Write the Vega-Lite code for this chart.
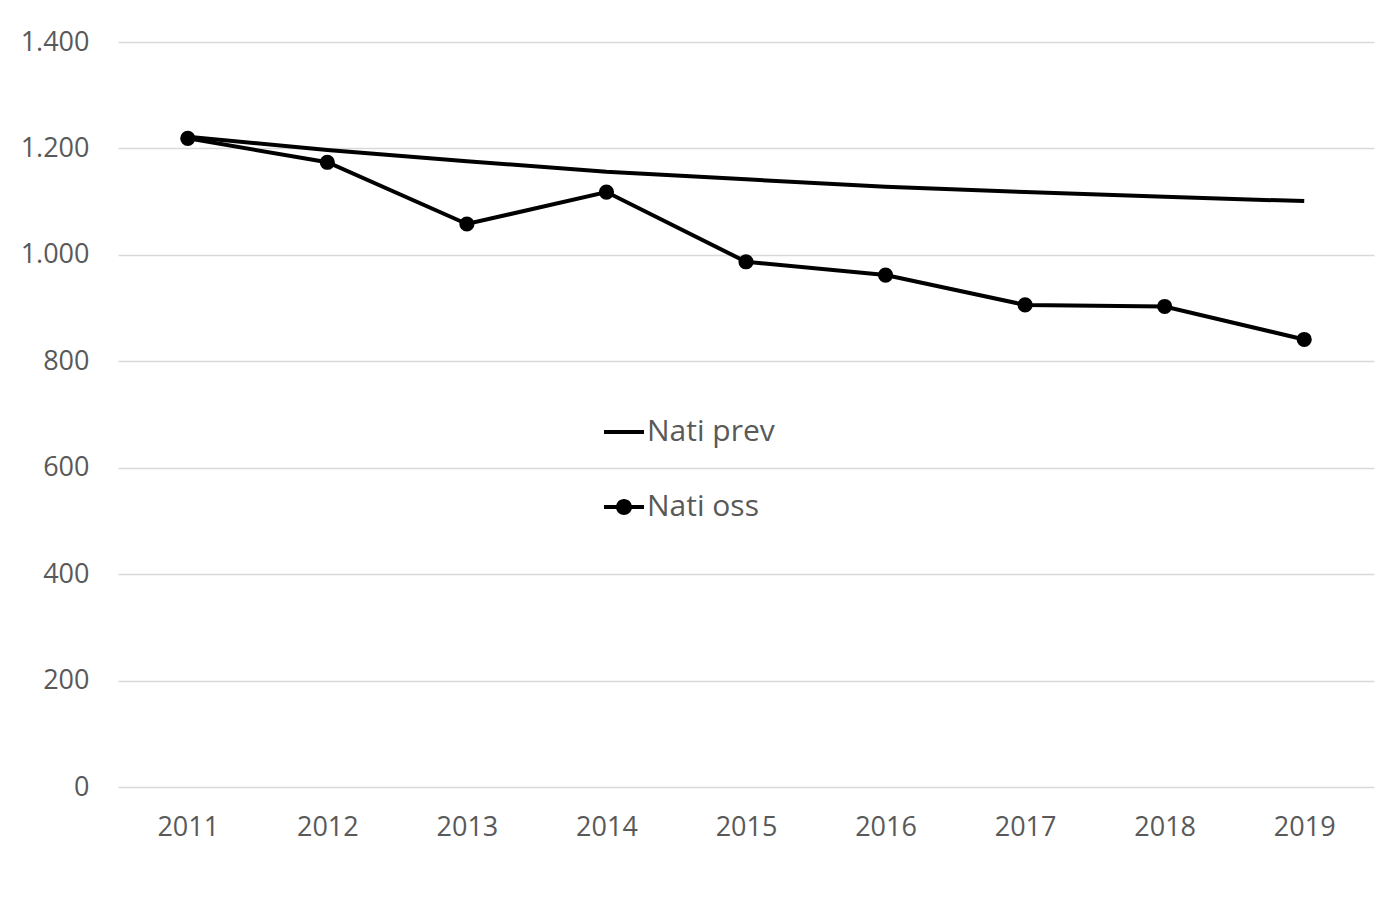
{
  "$schema": "https://vega.github.io/schema/vega-lite/v6.json",
  "width": 1256,
  "height": 745,
  "autosize": {"type": "none"},
  "padding": {"left": 118, "top": 42, "right": 6, "bottom": 123},
  "background": "white",
  "config": {
    "view": {"stroke": null},
    "font": "Open Sans",
    "axis": {"labelFont": "Open Sans", "labelColor": "#595959", "labelFontSize": 27, "domain": false, "ticks": false, "title": null},
    "legend": {"labelFont": "Open Sans", "labelColor": "#595959", "labelFontSize": 30}
  },
  "data": {
    "values": [
      {"year": "2011", "series": "Nati prev", "value": 1222},
      {"year": "2012", "series": "Nati prev", "value": 1197},
      {"year": "2013", "series": "Nati prev", "value": 1176},
      {"year": "2014", "series": "Nati prev", "value": 1156},
      {"year": "2015", "series": "Nati prev", "value": 1142},
      {"year": "2016", "series": "Nati prev", "value": 1128},
      {"year": "2017", "series": "Nati prev", "value": 1118},
      {"year": "2018", "series": "Nati prev", "value": 1109},
      {"year": "2019", "series": "Nati prev", "value": 1101},
      {"year": "2011", "series": "Nati oss", "value": 1219},
      {"year": "2012", "series": "Nati oss", "value": 1174},
      {"year": "2013", "series": "Nati oss", "value": 1058},
      {"year": "2014", "series": "Nati oss", "value": 1118},
      {"year": "2015", "series": "Nati oss", "value": 987},
      {"year": "2016", "series": "Nati oss", "value": 962},
      {"year": "2017", "series": "Nati oss", "value": 906},
      {"year": "2018", "series": "Nati oss", "value": 903},
      {"year": "2019", "series": "Nati oss", "value": 841}
    ]
  },
  "encoding": {
    "x": {"field": "year", "type": "ordinal", "scale": {"type": "point", "padding": 0.5},
      "axis": {"labelAngle": 0, "grid": false, "labelPadding": 27}},
    "y": {"field": "value", "type": "quantitative", "scale": {"domain": [0, 1400], "nice": false},
      "axis": {"values": [0, 200, 400, 600, 800, 1000, 1200, 1400], "grid": true, "gridColor": "#d9d9d9", "gridWidth": 1.5,
        "labelPadding": 29, "labelExpr": "replace(format(datum.value, ','), ',', '.')"}}
  },
  "layer": [
    {
      "mark": {"type": "line", "color": "black", "strokeWidth": 4},
      "encoding": {"detail": {"field": "series"}}
    },
    {
      "transform": [{"filter": "datum.series == 'Nati oss'"}],
      "mark": {"type": "point", "filled": true, "color": "black", "size": 230, "opacity": 1}
    },
    {
      "transform": [{"filter": "datum.value < 0"}],
      "mark": {"type": "point", "filled": true, "color": "black", "opacity": 1},
      "encoding": {
        "shape": {"field": "series", "type": "nominal",
          "scale": {"domain": ["Nati prev", "Nati oss"],
            "range": ["M-1,-0.1H1V0.1H-1Z", "M-1,-0.1H1V0.1H-1ZM0.4,0A0.4,0.4,0,1,1,-0.4,0A0.4,0.4,0,1,1,0.4,0Z"]},
          "legend": {"title": null, "orient": "none", "legendX": 486, "legendY": 370, "padding": 0,
            "symbolSize": 1600, "symbolStrokeWidth": 0, "symbolFillColor": "black",
            "symbolOpacity": 1, "rowPadding": 40, "labelOffset": 3, "labelLimit": 0,
            "encode": {"symbols": {"update": {"fill": {"value": "black"}, "opacity": {"value": 1}, "strokeWidth": {"value": 0}}}}}}
      }
    }
  ]
}
